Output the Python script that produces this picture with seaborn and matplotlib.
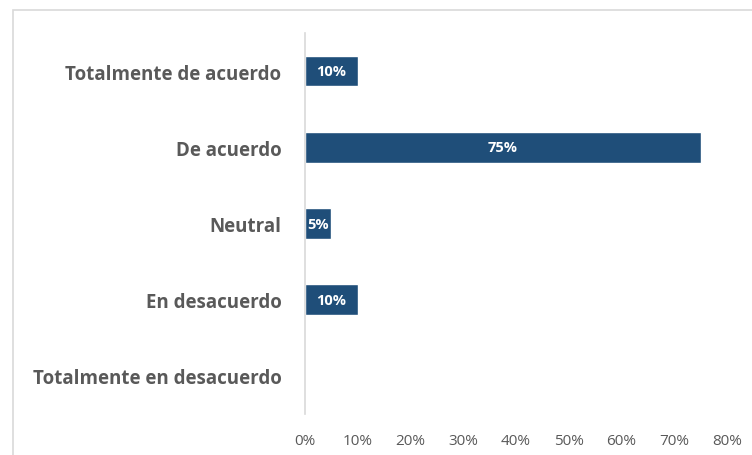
import matplotlib
matplotlib.use('Agg')
import matplotlib.pyplot as plt
import matplotlib.patches as patches
import seaborn as sns
import pandas as pd
from matplotlib.ticker import PercentFormatter

categorias = ['Totalmente de acuerdo', 'De acuerdo', 'Neutral', 'En desacuerdo', 'Totalmente en desacuerdo']
porcentajes = [0.10, 0.75, 0.05, 0.10, 0.0]

df = pd.DataFrame({'categoria': categorias, 'valor': porcentajes})

sns.set_style('white')
plt.rcParams['font.family'] = ['Open Sans', 'DejaVu Sans']

fig = plt.figure(figsize=(7.52, 4.56), dpi=100)
ax = fig.add_axes([0.4056, 0.0899, 0.5612, 0.8355])

sns.barplot(data=df, y='categoria', x='valor', orient='h', color='#1F4E79',
            saturation=1, width=0.4, ax=ax)

for i, v in enumerate(porcentajes):
    if v > 0:
        ax.text(v / 2, i, f'{v:.0%}', ha='center', va='center', color='white',
                fontsize=10.5, fontweight='bold')

ax.set_xlim(0, 0.8)
ax.set_ylim(4.5, -0.5)
ax.set_xticks([i / 10 for i in range(9)])
ax.xaxis.set_major_formatter(PercentFormatter(1.0, decimals=0))
ax.set_xlabel('')
ax.set_ylabel('')
ax.tick_params(axis='x', length=0, pad=14, labelsize=11, labelcolor='#595959')
ax.tick_params(axis='y', length=0, pad=17, labelsize=13.5, labelcolor='#595959')
for lbl in ax.get_yticklabels():
    lbl.set_fontweight('bold')

for s in ['top', 'right', 'bottom']:
    ax.spines[s].set_visible(False)
ax.spines['left'].set_color('#D9D9D9')
ax.spines['left'].set_linewidth(1.2)

fig.patches.append(patches.Rectangle((13 / 752, -0.1), 1.2, (445 / 456) + 0.1,
                                     transform=fig.transFigure, fill=False,
                                     edgecolor='#D9D9D9', linewidth=1.2))

fig.savefig('out.png', dpi=100)
